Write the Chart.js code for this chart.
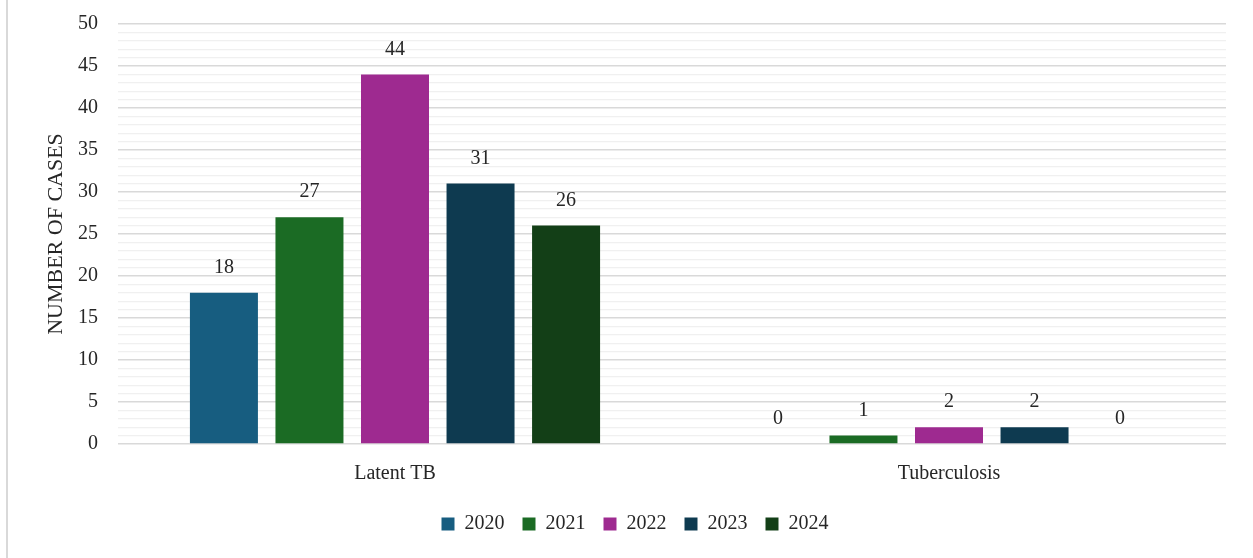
<!DOCTYPE html>
<html>
<head>
<meta charset="utf-8">
<title>TB cases by year</title>
<script src="https://cdn.jsdelivr.net/npm/chart.js@4.4.1/dist/chart.umd.min.js"></script>
<style>
    html, body { margin: 0; padding: 0; background: #fff; }
    #wrap { position: relative; width: 1253px; height: 558px; }
    #frame { position: absolute; left: 6px; top: 0; width: 2px; height: 558px; background: #d9d9d9; }
    canvas { position: absolute; left: 0; top: 0; }
</style>
</head>
<body>
<div id="wrap">
    <div id="frame"></div>
    <canvas id="chart" width="1253" height="558"></canvas>
</div>
<script>
// Categories and yearly counts
const categories = ['Latent TB', 'Tuberculosis'];
const years = ['2020', '2021', '2022', '2023', '2024'];
const cases2020 = [18, 0];
const cases2021 = [27, 1];
const cases2022 = [44, 2];
const cases2023 = [31, 2];
const cases2024 = [26, 0];
const yearColors = ['#175d80', '#1b6b24', '#9e2a90', '#0e3a50', '#133f17'];

const fontFamily = '"Liberation Serif", "DejaVu Serif", serif';
const textColor = '#262626';
const fontSize = 20;

const seriesValues = [cases2020, cases2021, cases2022, cases2023, cases2024];

const datasets = years.map((year, i) => ({
    label: year,
    data: seriesValues[i],
    backgroundColor: yearColors[i],
    borderWidth: 0,
    categoryPercentage: 0.772,
    barPercentage: 0.795
}));

// Value labels above each bar
const valueLabels = {
    id: 'valueLabels',
    afterDatasetsDraw(chart) {
        const ctx = chart.ctx;
        ctx.save();
        ctx.font = fontSize + 'px ' + fontFamily;
        ctx.fillStyle = textColor;
        ctx.textAlign = 'center';
        ctx.textBaseline = 'middle';
        chart.data.datasets.forEach((ds, i) => {
            const meta = chart.getDatasetMeta(i);
            meta.data.forEach((bar, j) => {
                ctx.fillText(String(ds.data[j]), bar.x, bar.y - 25);
            });
        });
        ctx.restore();
    }
};

// nudge the legend a bit to the right of the plot centre
const legendShift = {
    id: 'legendShift',
    afterLayout(chart) {
        chart.legend.left += 18;
        chart.legend.right += 18;
    }
};

const ctx = document.getElementById('chart').getContext('2d');
const chart = new Chart(ctx, {
    type: 'bar',
    data: {
        labels: categories,
        datasets: datasets
    },
    options: {
        responsive: false,
        animation: false,
        layout: {
            padding: { left: 8, right: 27, top: 2, bottom: 14 }
        },
        plugins: {
            legend: {
                position: 'bottom',
                labels: {
                    boxWidth: 13,
                    boxHeight: 13,
                    padding: 18,
                    color: textColor,
                    font: { family: fontFamily, size: fontSize }
                }
            },
            tooltip: { enabled: false }
        },
        scales: {
            x: {
                grid: { display: false },
                border: { display: false },
                ticks: {
                    color: textColor,
                    padding: 10,
                    font: { family: fontFamily, size: fontSize }
                },
                afterFit(scale) { scale.height = 52; }
            },
            y: {
                min: 0,
                max: 50,
                border: { display: false },
                grid: {
                    drawTicks: false,
                    color: c => (c.tick.value % 5 === 0 ? '#d9d9d9' : '#f0f0f0'),
                    lineWidth: c => (c.tick.value % 5 === 0 ? 1.5 : 1.2)
                },
                ticks: {
                    stepSize: 1,
                    autoSkip: false,
                    padding: 20,
                    color: textColor,
                    // small lineHeight keeps the top label from pushing the plot down
                    font: { family: fontFamily, size: fontSize, lineHeight: 0.4 },
                    callback: v => (v % 5 === 0 ? v : '')
                },
                title: {
                    display: true,
                    text: 'NUMBER OF CASES',
                    color: textColor,
                    font: { family: fontFamily, size: 22 },
                    padding: { top: 35, bottom: 0 }
                },
                afterFit(scale) { scale.width = 110; }
            }
        }
    },
    plugins: [valueLabels, legendShift]
});
</script>
</body>
</html>
